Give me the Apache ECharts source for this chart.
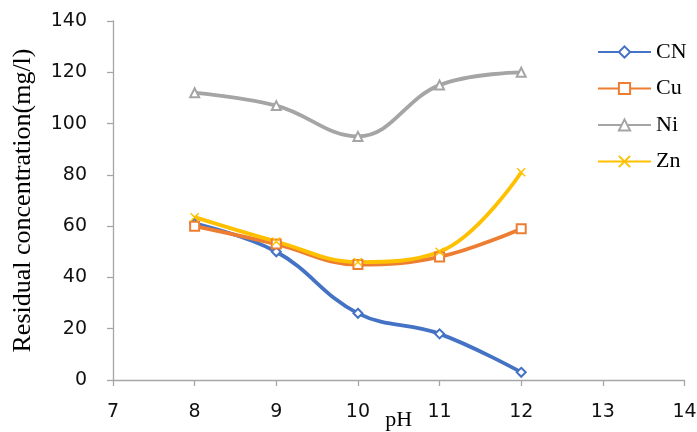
<!DOCTYPE html>
<html>
<head>
<meta charset="utf-8">
<style>
  html, body { margin: 0; padding: 0; background: #fff; overflow: hidden; }
  #chart { width: 697px; height: 432px; }
</style>
<script src="https://cdn.jsdelivr.net/npm/echarts@6/dist/echarts.min.js"></script>
</head>
<body>
<div id="chart"></div>
<script>
// pH values and residual concentrations (mg/l)
const phValues = [8, 9, 10, 11, 12];
const cnValues = [61, 50, 26, 18, 3];
const cuValues = [60, 53, 45, 48, 59];
const niValues = [112, 107, 95, 115, 120];
const znValues = [63.5, 54, 46, 50, 81];

const yTicks = { min: 0, max: 140, interval: 20 };
const xTicks = { min: 7, max: 14, interval: 1 };

const pairs = vals => phValues.map((p, i) => [p, vals[i]]);

const crossPath = 'path://M0,0L10,10M10,0L0,10';
const serif = '"Liberation Serif", "DejaVu Serif", serif';
const sans = '"DejaVu Sans", "Liberation Sans", sans-serif';

function makeSeries(name, vals, color, symbol, symbolSize, markerStyle) {
  return {
    name: name,
    type: 'line',
    data: pairs(vals),
    smooth: 0.4,
    symbol: symbol,
    symbolSize: symbolSize,
    showAllSymbol: true,
    lineStyle: { color: color, width: 3.8 },
    itemStyle: Object.assign({ color: color }, markerStyle || {}),
    emphasis: { disabled: true },
    z: 2
  };
}

const chart = echarts.init(document.getElementById('chart'), null, { renderer: 'canvas' });
chart.setOption({
  animation: false,
  backgroundColor: '#ffffff',
  grid: { left: 113, right: 12.5, top: 21, bottom: 52, outerBoundsMode: 'none', containLabel: false },
  legend: {
    orient: 'vertical',
    left: 597,
    top: 41,
    padding: 0,
    itemWidth: 53,
    itemHeight: 14,
    itemGap: 14.5,
    textStyle: { fontFamily: serif, fontSize: 22, color: '#000' },
    data: ['CN', 'Cu', 'Ni', 'Zn']
  },
  xAxis: {
    type: 'value',
    min: xTicks.min,
    max: xTicks.max,
    interval: xTicks.interval,
    name: 'pH',
    nameLocation: 'middle',
    nameGap: 29,
    nameMoveOverlap: false,
    nameTextStyle: { fontFamily: serif, fontSize: 22, color: '#000' },
    axisLine: { show: true, lineStyle: { color: '#a6a6a6', width: 1.3 } },
    axisTick: { show: true, length: 6, lineStyle: { color: '#a6a6a6', width: 1.3 } },
    axisLabel: { fontFamily: sans, fontSize: 19, color: '#111', margin: 23 },
    splitLine: { show: false }
  },
  yAxis: {
    type: 'value',
    min: yTicks.min,
    max: yTicks.max,
    interval: yTicks.interval,
    name: 'Residual concentration(mg/l)',
    nameLocation: 'middle',
    nameGap: 77,
    nameMoveOverlap: false,
    nameTextStyle: { fontFamily: serif, fontSize: 26, color: '#000' },
    axisLine: { show: true, lineStyle: { color: '#a6a6a6', width: 1.3 } },
    axisTick: { show: true, length: 6, lineStyle: { color: '#a6a6a6', width: 1.3 } },
    axisLabel: { fontFamily: sans, fontSize: 19, color: '#111', margin: 16, padding: [0, 10, 0, 0] },
    splitLine: { show: false }
  },
  series: [
    makeSeries('CN', cnValues, '#4472C4', 'emptyDiamond', 9, { borderWidth: 1.2 }),
    makeSeries('Cu', cuValues, '#ED7D31', 'emptyRect', 9, { borderWidth: 1.2 }),
    makeSeries('Ni', niValues, '#A5A5A5', 'emptyTriangle', 9, { borderWidth: 1.2 }),
    makeSeries('Zn', znValues, '#FFC000', crossPath, 8,
      { color: '#FFC000', borderColor: '#FFC000', borderWidth: 1.5 })
  ]
});
</script>
</body>
</html>
